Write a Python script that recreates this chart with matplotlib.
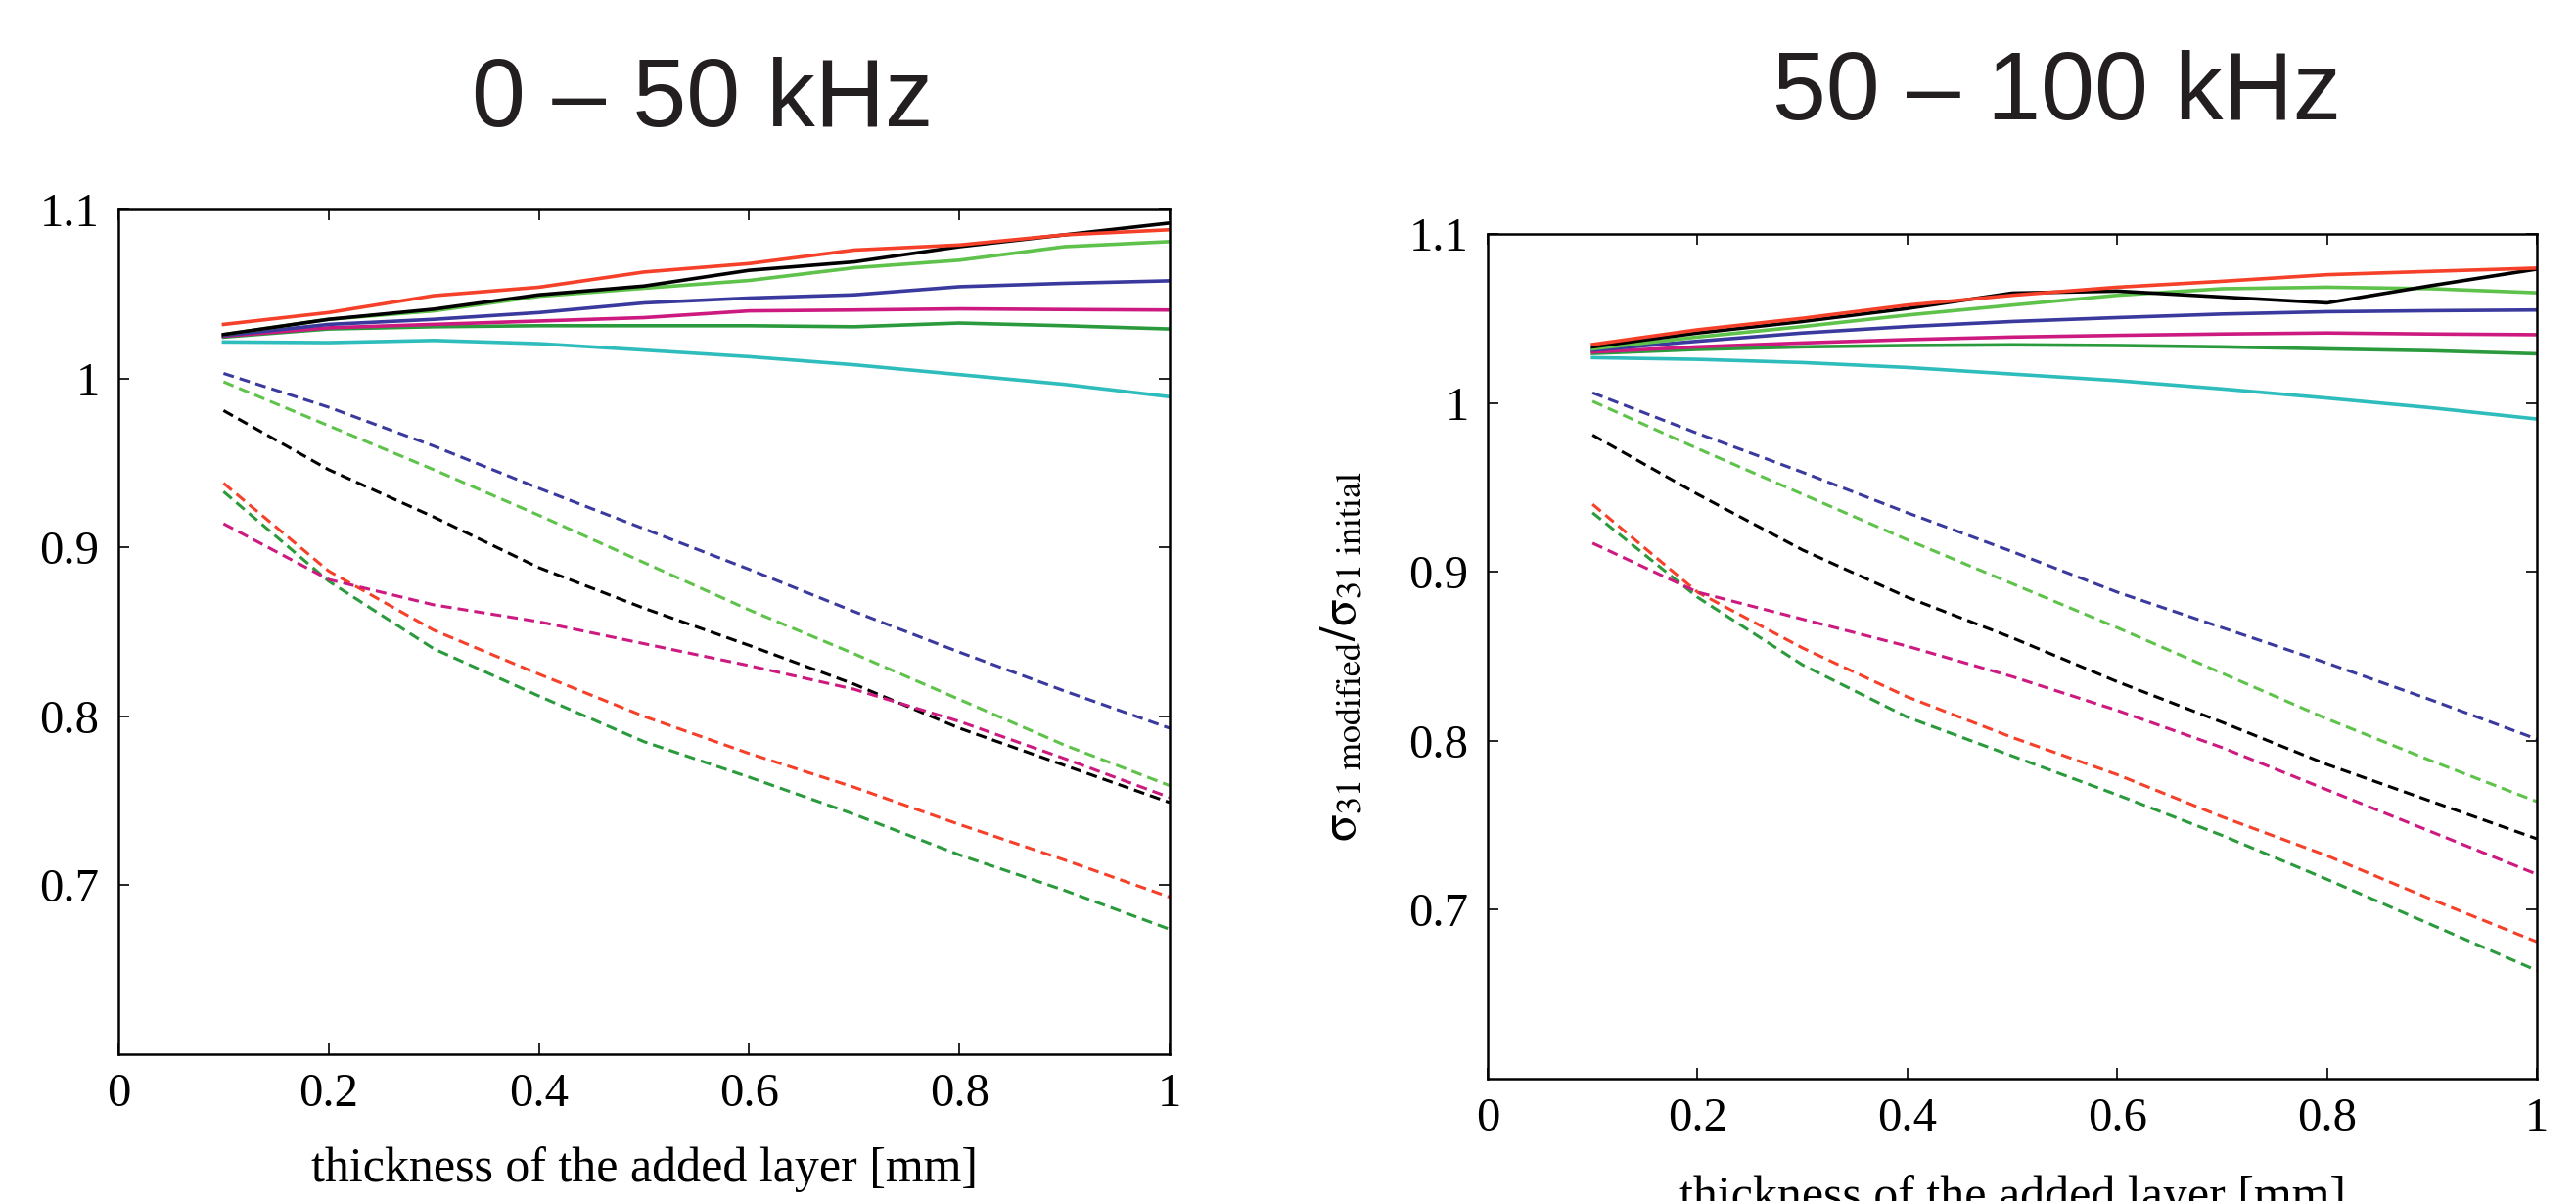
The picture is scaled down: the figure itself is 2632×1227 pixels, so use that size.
import matplotlib
matplotlib.use('Agg')
import matplotlib.pyplot as plt

plt.rcParams['font.family'] = ['Liberation Serif', 'DejaVu Serif']
plt.rcParams['mathtext.fontset'] = 'stix'

# layer thickness [mm]
thickness = [0.1, 0.2, 0.3, 0.4, 0.5, 0.6, 0.7, 0.8, 0.9, 1.0]

# 0 - 50 kHz, solid curves
low_solid_black = [1.026, 1.035, 1.041, 1.0495, 1.0547, 1.064, 1.069, 1.078, 1.085, 1.092]
low_solid_red = [1.032, 1.039, 1.049, 1.054, 1.063, 1.068, 1.076, 1.079, 1.085, 1.088]
low_solid_lgreen = [1.026, 1.035, 1.040, 1.0486, 1.0534, 1.058, 1.0655, 1.070, 1.078, 1.081]
low_solid_blue = [1.0254, 1.032, 1.035, 1.039, 1.0447, 1.0476, 1.0495, 1.0543, 1.0563, 1.0578]
low_solid_magenta = [1.025, 1.030, 1.032, 1.034, 1.036, 1.040, 1.0405, 1.0412, 1.0408, 1.0405]
low_solid_dgreen = [1.0245, 1.0293, 1.0306, 1.0312, 1.0312, 1.0312, 1.0306, 1.0328, 1.0312, 1.0293]
low_solid_cyan = [1.0216, 1.0212, 1.0225, 1.0206, 1.0168, 1.0129, 1.0081, 1.0023, 0.9965, 0.9892]

# 0 - 50 kHz, dashed curves
low_dash_blue = [1.003, 0.983, 0.960, 0.935, 0.911, 0.887, 0.862, 0.838, 0.815, 0.793]
low_dash_lgreen = [0.998, 0.972, 0.946, 0.919, 0.891, 0.863, 0.837, 0.810, 0.783, 0.759]
low_dash_black = [0.981, 0.946, 0.918, 0.888, 0.864, 0.842, 0.819, 0.793, 0.771, 0.749]
low_dash_red = [0.938, 0.886, 0.851, 0.825, 0.800, 0.778, 0.758, 0.736, 0.715, 0.693]
low_dash_dgreen = [0.933, 0.880, 0.840, 0.812, 0.785, 0.764, 0.742, 0.718, 0.697, 0.674]
low_dash_magenta = [0.914, 0.881, 0.866, 0.856, 0.843, 0.830, 0.816, 0.797, 0.775, 0.752]

# 50 - 100 kHz, solid curves
high_solid_red = [1.0346, 1.0433, 1.0501, 1.0579, 1.0637, 1.0685, 1.072, 1.0759, 1.0779, 1.0798]
high_solid_black = [1.0332, 1.0414, 1.0482, 1.0559, 1.065, 1.0662, 1.0627, 1.0592, 1.0695, 1.0792]
high_solid_lgreen = [1.032, 1.039, 1.0452, 1.052, 1.0579, 1.0637, 1.0676, 1.0685, 1.0676, 1.0652]
high_solid_blue = [1.0313, 1.0365, 1.0414, 1.0452, 1.0482, 1.0505, 1.0526, 1.054, 1.0546, 1.055]
high_solid_magenta = [1.0301, 1.0332, 1.0355, 1.0375, 1.039, 1.04, 1.0408, 1.0414, 1.0408, 1.0404]
high_solid_dgreen = [1.0293, 1.0317, 1.0332, 1.034, 1.0344, 1.034, 1.0332, 1.032, 1.0309, 1.0291]
high_solid_cyan = [1.0268, 1.0258, 1.0239, 1.021, 1.0171, 1.0132, 1.0083, 1.0029, 0.9971, 0.9905]

# 50 - 100 kHz, dashed curves
high_dash_blue = [1.006, 0.982, 0.959, 0.935, 0.912, 0.888, 0.867, 0.846, 0.824, 0.801]
high_dash_lgreen = [1.001, 0.973, 0.946, 0.919, 0.893, 0.867, 0.840, 0.813, 0.788, 0.764]
high_dash_black = [0.981, 0.946, 0.913, 0.885, 0.861, 0.835, 0.811, 0.786, 0.764, 0.742]
high_dash_red = [0.940, 0.888, 0.855, 0.826, 0.802, 0.780, 0.755, 0.732, 0.706, 0.681]
high_dash_dgreen = [0.935, 0.885, 0.845, 0.814, 0.791, 0.768, 0.744, 0.718, 0.691, 0.664]
high_dash_magenta = [0.917, 0.888, 0.872, 0.856, 0.838, 0.818, 0.796, 0.771, 0.746, 0.721]

x_ticks = [0, 0.2, 0.4, 0.6, 0.8, 1]
x_tick_labels = ['0', '0.2', '0.4', '0.6', '0.8', '1']
y_ticks = [0.7, 0.8, 0.9, 1.0, 1.1]
y_tick_labels = ['0.7', '0.8', '0.9', '1', '1.1']

BLACK = '#000000'
RED = '#f5402a'
LGREEN = '#5ec24b'
BLUE = '#3a3a9e'
MAGENTA = '#cc1a80'
DGREEN = '#2a9a3c'
CYAN = '#2fbcbc'

DASH = (0, (3.6, 2.0))

fig = plt.figure(figsize=(26.32, 12.27), dpi=100)
ax1 = fig.add_axes([0.04597, 0.12225, 0.40805, 0.7033])
ax2 = fig.add_axes([0.5775, 0.10187, 0.4073, 0.7033])

panels = [
    (ax1,
     [low_solid_cyan, low_solid_dgreen, low_solid_magenta, low_solid_blue,
      low_solid_lgreen, low_solid_black, low_solid_red],
     [low_dash_blue, low_dash_lgreen, low_dash_black, low_dash_red,
      low_dash_dgreen, low_dash_magenta]),
    (ax2,
     [high_solid_cyan, high_solid_dgreen, high_solid_magenta, high_solid_blue,
      high_solid_lgreen, high_solid_black, high_solid_red],
     [high_dash_blue, high_dash_lgreen, high_dash_black, high_dash_red,
      high_dash_dgreen, high_dash_magenta]),
]
solid_colors = [CYAN, DGREEN, MAGENTA, BLUE, LGREEN, BLACK, RED]
dash_colors = [BLUE, LGREEN, BLACK, RED, DGREEN, MAGENTA]

for ax, solids, dashes in panels:
    for values, color in zip(solids, solid_colors):
        ax.plot(thickness, values, color=color, lw=2.6)
    for values, color in zip(dashes, dash_colors):
        ax.plot(thickness, values, color=color, lw=2.2, linestyle=DASH)

    ax.set_xlim(0, 1)
    ax.set_ylim(0.6, 1.1)
    ax.set_xticks(x_ticks)
    ax.set_xticklabels(x_tick_labels)
    ax.set_yticks(y_ticks)
    ax.set_yticklabels(y_tick_labels)
    ax.tick_params(axis='both', direction='in', length=8, width=1.2,
                   top=True, right=True, labelsize=35, pad=14)
    for spine in ax.spines.values():
        spine.set_linewidth(1.8)

# titles
fig.text(0.2728, 0.8949, '0 \u2013 50 kHz', family='Liberation Sans',
         fontsize=71, ha='center', va='baseline', color='#231f20')
fig.text(0.7986, 0.9006, '50 \u2013 100 kHz', family='Liberation Sans',
         fontsize=71, ha='center', va='baseline', color='#231f20')

# axis labels
xlabel = 'thickness of the added layer [mm]'
fig.text(0.25, 1 - 1207 / 1227, xlabel, fontsize=36, ha='center', va='baseline')
fig.text(0.7814, 1 - 1236 / 1227, xlabel, fontsize=36, ha='center', va='baseline')

ylabel = r'$\mathrm{\sigma}_{\mathrm{31\ modified}}/\mathrm{\sigma}_{\mathrm{31\ initial}}$'
fig.text(-25 / 2632, 1 - 645 / 1227, ylabel, fontsize=37, rotation=90,
         ha='center', va='center')
fig.text(1373 / 2632, 1 - 671 / 1227, ylabel, fontsize=37, rotation=90,
         ha='center', va='center')

plt.savefig('out.png', dpi=100)
